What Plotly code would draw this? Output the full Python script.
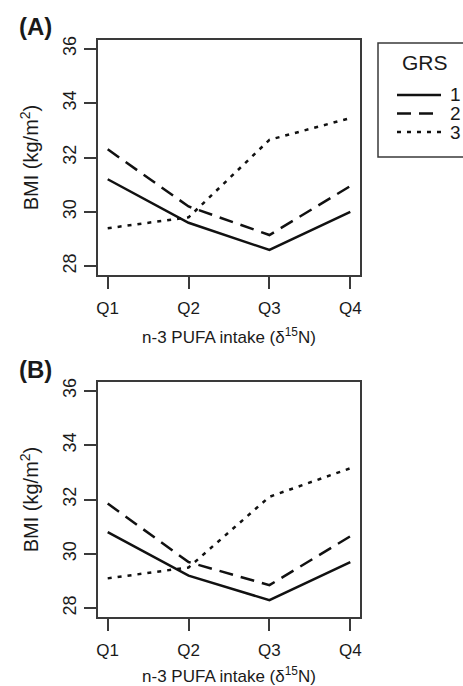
import plotly.graph_objects as go

# Quartiles of n-3 PUFA intake (delta 15N)
quartiles = ["Q1", "Q2", "Q3", "Q4"]
quartile_pos = [1, 2, 3, 4]

# Mean BMI (kg/m^2) by genetic risk score (GRS) group — panel A
bmi_a_grs1 = [31.2, 29.6, 28.6, 30.0]
bmi_a_grs2 = [32.3, 30.2, 29.15, 30.95]
bmi_a_grs3 = [29.4, 29.8, 32.65, 33.45]

# Mean BMI (kg/m^2) by GRS group — panel B
bmi_b_grs1 = [30.8, 29.2, 28.3, 29.7]
bmi_b_grs2 = [31.85, 29.7, 28.85, 30.65]
bmi_b_grs3 = [29.1, 29.5, 32.1, 33.15]

grs_labels = ["1", "2", "3"]
y_ticks = [28, 30, 32, 34, 36]

W, H = 463, 686
ML, MR, MT, MB = 98, 103, 40, 69
FONT = "Liberation Sans, Arial, Helvetica, sans-serif"
INK = "#1a1a1a"
FRAME = "#3a3a3a"
LINE_W = 2.5
dashes = ["solid", "14px,8px", "4px,6px"]


def px(x, y):
    """Pixel position on the page -> paper coordinates."""
    return (x - ML) / (W - ML - MR), (H - MB - y) / (H - MT - MB)


fig = go.Figure()

panels = [
    ("x", "y", [bmi_a_grs1, bmi_a_grs2, bmi_a_grs3]),
    ("x2", "y2", [bmi_b_grs1, bmi_b_grs2, bmi_b_grs3]),
]
for xa, ya, series in panels:
    for vals, dash, name in zip(series, dashes, grs_labels):
        fig.add_trace(go.Scatter(
            x=quartile_pos, y=vals, mode="lines", name=name,
            xaxis=xa, yaxis=ya, showlegend=False,
            line=dict(color="#111111", width=LINE_W, dash=dash),
        ))

plot_h = H - MT - MB
dom_a = [(H - MB - 275) / plot_h, 1.0]
dom_b = [0.0, (H - MB - 382) / plot_h]

xaxis_style = dict(
    range=[0.88, 4.12], tickmode="array", tickvals=quartile_pos, ticktext=quartiles,
    showline=True, mirror=True, linecolor=FRAME, linewidth=1.5,
    ticks="outside", ticklen=12, tickwidth=1.5, tickcolor=FRAME,
    showgrid=False, zeroline=False, ticklabelstandoff=5,
    tickfont=dict(family=FONT, size=17, color=INK),
    title=dict(text="n-3 PUFA intake (δ<sup>15</sup>N)", standoff=14,
               font=dict(family=FONT, size=17, color=INK)),
    automargin=False,
)
yaxis_style = dict(
    range=[27.68, 36.32], tickmode="array", tickvals=y_ticks,
    showline=True, mirror=True, linecolor=FRAME, linewidth=1.5,
    ticks="outside", ticklen=12, tickwidth=1.5, tickcolor=FRAME,
    showgrid=False, zeroline=False, tickangle=-90, ticklabelstandoff=1,
    tickfont=dict(family=FONT, size=18, color=INK),
    title=dict(text="BMI (kg/m<sup>2</sup>)", standoff=16,
               font=dict(family=FONT, size=20, color=INK)),
    automargin=False,
)

fig.update_layout(
    width=W, height=H,
    margin=dict(l=ML, r=MR, t=MT, b=MB, autoexpand=False),
    paper_bgcolor="white", plot_bgcolor="white",
    showlegend=False,
    xaxis=dict(domain=[0, 1], anchor="y", **xaxis_style),
    yaxis=dict(domain=dom_a, anchor="x", **yaxis_style),
    xaxis2=dict(domain=[0, 1], anchor="y2", **xaxis_style),
    yaxis2=dict(domain=dom_b, anchor="x2", **yaxis_style),
)

# Panel tags
for tag, (cx, cy) in [("(A)", (35, 26.5)), ("(B)", (35, 369))]:
    ax_, ay_ = px(cx, cy)
    fig.add_annotation(
        text=f"<b>{tag}</b>", x=ax_, y=ay_, xref="paper", yref="paper",
        xanchor="center", yanchor="middle", showarrow=False,
        font=dict(family=FONT, size=24, color=INK),
    )

# GRS key: frame, title, line samples and labels
bx0, by0 = px(378, 43)
bx1, by1 = px(475, 157)
fig.add_shape(type="rect", xref="paper", yref="paper",
              x0=bx0, y0=by1, x1=bx1, y1=by0,
              line=dict(color=FRAME, width=1.5), fillcolor="white", layer="above")
gx, gy = px(425, 62.5)
fig.add_annotation(text="GRS", x=gx, y=gy, xref="paper", yref="paper",
                   xanchor="center", yanchor="middle", showarrow=False,
                   font=dict(family=FONT, size=21, color=INK))
for label, dash, row_y in zip(grs_labels, dashes, [95, 113.5, 132]):
    sx0, sy = px(397, row_y)
    sx1, _ = px(441, row_y)
    fig.add_shape(type="line", xref="paper", yref="paper",
                  x0=sx0, y0=sy, x1=sx1, y1=sy,
                  line=dict(color="#111111", width=LINE_W, dash=dash), layer="above")
    tx, ty = px(455, row_y)
    fig.add_annotation(text=label, x=tx, y=ty, xref="paper", yref="paper",
                       xanchor="center", yanchor="middle", showarrow=False,
                       font=dict(family=FONT, size=19, color=INK))

fig.write_html("out.html")
